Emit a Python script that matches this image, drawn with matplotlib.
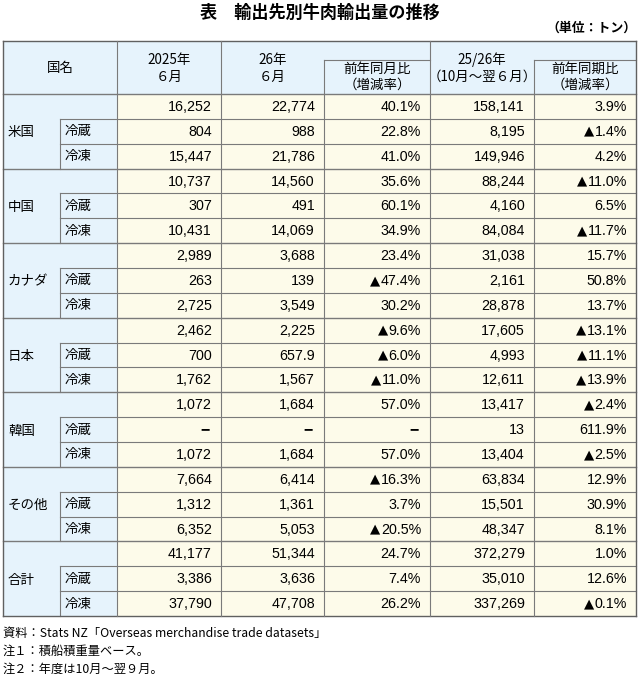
import matplotlib
matplotlib.use('Agg')
import matplotlib.pyplot as plt

# ---------------- data ----------------
countries = ['米国', '中国', 'カナダ', '日本', '韓国', 'その他', '合計']
kinds = ['冷蔵', '冷凍']

jun2025 = ['16,252', '804', '15,447',
           '10,737', '307', '10,431',
           '2,989', '263', '2,725',
           '2,462', '700', '1,762',
           '1,072', '−', '1,072',
           '7,664', '1,312', '6,352',
           '41,177', '3,386', '37,790']
jun2026 = ['22,774', '988', '21,786',
           '14,560', '491', '14,069',
           '3,688', '139', '3,549',
           '2,225', '657.9', '1,567',
           '1,684', '−', '1,684',
           '6,414', '1,361', '5,053',
           '51,344', '3,636', '47,708']
yoy_month = ['40.1%', '22.8%', '41.0%',
             '35.6%', '60.1%', '34.9%',
             '23.4%', '▲47.4%', '30.2%',
             '▲9.6%', '▲6.0%', '▲11.0%',
             '57.0%', '−', '57.0%',
             '▲16.3%', '3.7%', '▲20.5%',
             '24.7%', '7.4%', '26.2%']
fy_2526 = ['158,141', '8,195', '149,946',
           '88,244', '4,160', '84,084',
           '31,038', '2,161', '28,878',
           '17,605', '4,993', '12,611',
           '13,417', '13', '13,404',
           '63,834', '15,501', '48,347',
           '372,279', '35,010', '337,269']
yoy_period = ['3.9%', '▲1.4%', '4.2%',
              '▲11.0%', '6.5%', '▲11.7%',
              '15.7%', '50.8%', '13.7%',
              '▲13.1%', '▲11.1%', '▲13.9%',
              '▲2.4%', '611.9%', '▲2.5%',
              '12.9%', '30.9%', '8.1%',
              '1.0%', '12.6%', '▲0.1%']

title = '表　輸出先別牛肉輸出量の推移'
unit = '（単位：トン）'
notes = ['資料：Stats NZ「Overseas merchandise trade datasets」',
         '注１：積船積重量ベース。',
         '注２：年度は10月～翌９月。']

# ---------------- layout ----------------
W, H = 640, 674
fig = plt.figure(figsize=(W / 100, H / 100), dpi=100)
ax = fig.add_axes([0, 0, 1, 1])
ax.set_xlim(0, W)
ax.set_ylim(H, 0)
ax.axis('off')

JP = ['Noto Sans CJK JP', 'DejaVu Sans']
NUM = ['Liberation Sans', 'DejaVu Sans']

xs = [3, 60, 117, 221, 324, 430, 534, 636]
top, hbot, hmid = 41, 94, 60
bot = 616
nrows = len(jun2025)
rh = (bot - hbot) / nrows
def ry(i):
    return hbot + i * rh

blue = '#e6f3fc'
cream = '#fdfbea'
lc = '#7a7a7a'

ax.add_patch(plt.Rectangle((xs[0], top), xs[-1] - xs[0], hbot - top, fc=blue, ec='none'))
ax.add_patch(plt.Rectangle((xs[0], hbot), xs[2] - xs[0], bot - hbot, fc=blue, ec='none'))
ax.add_patch(plt.Rectangle((xs[2], hbot), xs[-1] - xs[2], bot - hbot, fc=cream, ec='none'))

def hl(y, x0, x1, lw=0.8, c=lc):
    ax.plot([x0, x1], [y, y], color=c, lw=lw, solid_capstyle='projecting')
def vl(x, y0, y1, lw=0.8, c=lc):
    ax.plot([x, x], [y0, y1], color=c, lw=lw, solid_capstyle='projecting')

# horizontal lines
hl(top, xs[0], xs[-1], 1.0, '#606060')
hl(hbot, xs[0], xs[-1], 1.0)
hl(hmid, xs[4], xs[5])
hl(hmid, xs[6], xs[-1])
for g in range(len(countries)):
    r0 = 3 * g
    if g > 0:
        hl(ry(r0), xs[0], xs[-1], 1.0)
    hl(ry(r0 + 1), xs[1], xs[-1])
    hl(ry(r0 + 2), xs[1], xs[-1])
    vl(xs[1], ry(r0 + 1), ry(r0 + 3))
hl(bot, xs[0], xs[-1], 1.0, '#606060')

# vertical lines
for x in (xs[0], xs[-1]):
    vl(x, top, bot, 1.0, '#606060')
for x in (xs[2], xs[3], xs[5]):
    vl(x, top, bot)
for x in (xs[4], xs[6]):
    vl(x, hmid, bot)

# title & unit
ax.text(320, 13, title, family=JP, fontsize=12.3, fontweight='bold', ha='center', va='center')
ax.text(637, 28, unit, family=JP, fontsize=9.3, fontweight='bold', ha='right', va='center')

# header
hs = 9.7
def cx(i):
    return (xs[i] + xs[i + 1]) / 2
ax.text((xs[0] + xs[2]) / 2, 68, '国名', family=JP, fontsize=hs, ha='center', va='center')
ax.text(cx(2), 60, '2025年', family=JP, fontsize=hs, ha='center', va='center')
ax.text(cx(2), 77, '６月', family=JP, fontsize=hs, ha='center', va='center')
ax.text(cx(3), 60, '26年', family=JP, fontsize=hs, ha='center', va='center')
ax.text(cx(3), 77, '６月', family=JP, fontsize=hs, ha='center', va='center')
ax.text(cx(4), 69, '前年同月比', family=JP, fontsize=hs, ha='center', va='center')
ax.text(cx(4), 85, '（増減率）', family=JP, fontsize=hs, ha='center', va='center')
ax.text(cx(5), 60, '25/26年', family=JP, fontsize=hs, ha='center', va='center')
ax.text(cx(5), 77, '（10月～翌６月）', family=JP, fontsize=hs, ha='center', va='center')
ax.text(cx(6), 69, '前年同期比', family=JP, fontsize=hs, ha='center', va='center')
ax.text(cx(6), 85, '（増減率）', family=JP, fontsize=hs, ha='center', va='center')

# body
for g, name in enumerate(countries):
    r0 = 3 * g
    ax.text(8, ry(r0 + 1) + rh / 2 + 1, name, family=JP, fontsize=9.7, ha='left', va='center')
    for k, kind in enumerate(kinds):
        ax.text(65, ry(r0 + 1 + k) + rh / 2, kind, family=JP, fontsize=9.7, ha='left', va='center')

renderer = fig.canvas.get_renderer()
inv = ax.transData.inverted()
cols = [jun2025, jun2026, yoy_month, fy_2526, yoy_period]
for ci, col in enumerate(cols):
    xr = xs[ci + 3] - 9
    for r, s in enumerate(col):
        y = ry(r) + rh / 2 + 0.5
        if s == '−':
            ax.text(xr - 2, y, '−', family=NUM, fontsize=11.5, fontweight='bold',
                    ha='right', va='center')
        elif s.startswith('▲'):
            t = ax.text(xr, y, s[1:], family=NUM, fontsize=10.3, ha='right', va='center')
            bb = t.get_window_extent(renderer)
            xl = inv.transform((bb.x0, bb.y0))[0]
            ax.text(xl - 0.5, y - 0.5, '▲', family=['DejaVu Sans'], fontsize=9.5,
                    ha='right', va='center')
        else:
            ax.text(xr, y, s, family=NUM, fontsize=10.3, ha='right', va='center')

# notes
for i, n in enumerate(notes):
    ax.text(3, 633 + i * 18, n, family=JP, fontsize=8.8, ha='left', va='center')

fig.savefig('out.png', dpi=100, facecolor='white')
